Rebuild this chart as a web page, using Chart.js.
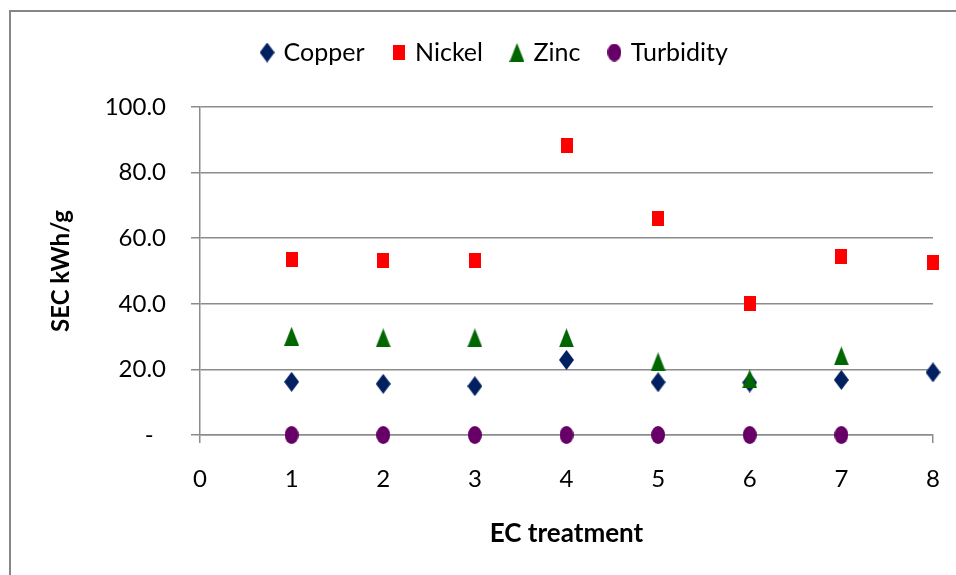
<!DOCTYPE html>
<html>
<head>
<meta charset="utf-8">
<script src="https://cdn.jsdelivr.net/npm/chart.js@4.4.1/dist/chart.umd.min.js"></script>
<style>
  html, body { margin: 0; padding: 0; background: #ffffff; overflow: hidden; }
  #wrap { position: relative; width: 956px; height: 575px; overflow: hidden; }
  #frame { position: absolute; left: 9px; top: 10px; width: 2000px; height: 2000px;
           border-left: 2px solid #868686; border-top: 2px solid #868686; }
  #chart { position: absolute; left: 0; top: 0; }
</style>
</head>
<body>
<div id="wrap">
  <div id="frame"></div>
  <canvas id="chart" width="956" height="575"></canvas>
</div>
<script>
// EC treatment numbers on the x axis
const treatments = [1, 2, 3, 4, 5, 6, 7, 8];

// Specific energy consumption (kWh/g) per treatment
const copper    = [16.2, 15.6, 14.9, 22.9, 16.1, 16.0, 16.8, 19.1];
const nickel    = [53.6, 53.2, 53.2, 88.2, 66.0, 40.2, 54.4, 52.7];
const zinc      = [30.1, 29.6, 29.6, 29.6, 22.3, 17.1, 24.1];
const turbidity = [0, 0, 0, 0, 0, 0, 0];

// Axis tick values
const yTicks = [0, 20, 40, 60, 80, 100];
const xTicks = [0, 1, 2, 3, 4, 5, 6, 7, 8];

const FONT = "Lato, 'Open Sans', sans-serif";

// Marker images (slightly taller than wide)
function marker(w, h, color, draw) {
  const c = document.createElement('canvas');
  c.width = w; c.height = h;
  const g = c.getContext('2d');
  g.fillStyle = color;
  g.beginPath();
  draw(g, w, h);
  g.fill();
  return c;
}
const diamond = marker(15, 20, '#002060', (g, w, h) => {
  g.moveTo(w / 2, 0); g.lineTo(w, h / 2); g.lineTo(w / 2, h); g.lineTo(0, h / 2); g.closePath();
});
const square = marker(12, 15, '#ff0000', (g, w, h) => { g.rect(0, 0, w, h); });
const triangle = marker(15, 19, '#006600', (g, w, h) => {
  g.moveTo(w / 2, 0); g.lineTo(w, h); g.lineTo(0, h); g.closePath();
});
const ellipse = marker(14, 18, '#660066', (g, w, h) => {
  g.ellipse(w / 2, h / 2, w / 2, h / 2, 0, 0, Math.PI * 2);
});

function points(values) {
  return values.map((v, i) => ({ x: treatments[i], y: v }));
}

const GRID = '#8c8c8c';

// Extra space below the legend before the plot area
const legendGap = {
  id: 'legendGap',
  afterInit(chart) {
    const lg = chart.legend;
    const fit = lg.fit;
    lg.fit = function () { fit.call(this); this.height = 97; };
  }
};

function series(label, values, style, color, order) {
  return { label, data: points(values), pointStyle: style, pointRadius: 10, order,
           clip: false, backgroundColor: color, borderColor: color };
}

new Chart(document.getElementById('chart'), {
  type: 'scatter',
  data: {
    datasets: [
      series('Copper', copper, diamond, '#002060', 3),
      series('Nickel', nickel, square, '#ff0000', 2),
      series('Zinc', zinc, triangle, '#006600', 1),
      series('Turbidity', turbidity, ellipse, '#660066', 0)
    ]
  },
  options: {
    responsive: false,
    animation: false,
    devicePixelRatio: 1,
    layout: { padding: { left: 58, right: 23, top: 10, bottom: 0 } },
    plugins: {
      tooltip: { enabled: false },
      legend: {
        position: 'top',
        labels: {
          usePointStyle: true,
          boxWidth: 8,
          padding: 30,
          color: '#000000',
          font: { family: FONT, size: 25 },
          sort: (a, b) => a.datasetIndex - b.datasetIndex
        }
      }
    },
    scales: {
      x: {
        type: 'linear',
        min: 0, max: 8,
        afterBuildTicks: (s) => { s.ticks = xTicks.map(v => ({ value: v })); },
        afterFit: (s) => { s.height = 140; s.paddingLeft = 0; s.paddingRight = 0; },
        border: { display: true, color: GRID, width: 1.5 },
        grid: { drawOnChartArea: false, drawTicks: true, tickLength: 8, color: GRID, lineWidth: 1.5 },
        ticks: { padding: 22, color: '#000000', font: { family: FONT, size: 24 }, maxRotation: 0 },
        title: {
          display: true, text: 'EC treatment', color: '#000000',
          font: { family: FONT, size: 26, weight: 'bold' },
          padding: { top: 0, bottom: 26 }
        }
      },
      y: {
        type: 'linear',
        min: 0, max: 100,
        afterBuildTicks: (s) => { s.ticks = yTicks.map(v => ({ value: v })); },
        afterFit: (s) => { s.width = 142; },
        border: { display: true, color: GRID, width: 1.5 },
        grid: { drawOnChartArea: true, drawTicks: true, tickLength: 9, color: GRID, lineWidth: 1.5 },
        ticks: {
          padding: 25, color: '#000000', font: { family: FONT, size: 24 },
          callback: (v) => v === 0 ? '-  ' : Number(v).toFixed(1)
        },
        title: {
          display: true, text: 'SEC kWh/g', color: '#000000',
          font: { family: FONT, size: 24, weight: 'bold' },
          padding: { top: -11, bottom: 0 }
        }
      }
    }
  },
  plugins: [legendGap]
});
</script>
</body>
</html>
